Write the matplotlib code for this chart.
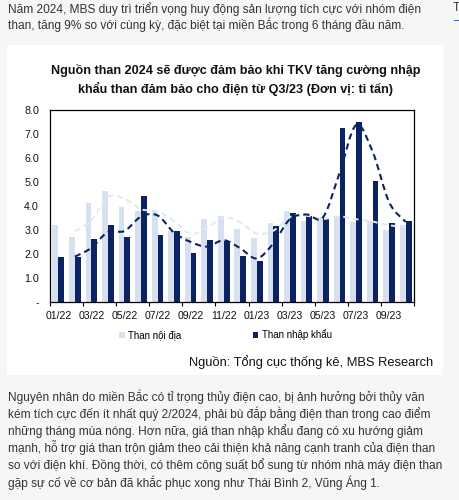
import matplotlib
matplotlib.use("Agg")
import matplotlib.pyplot as plt
from matplotlib.patches import Rectangle, PathPatch
from matplotlib.path import Path
import numpy as np
import pandas as pd

plt.rcParams['font.family'] = ['Liberation Sans', 'DejaVu Sans']

# ---------------- data ----------------
months = ['01/22', '02/22', '03/22', '04/22', '05/22', '06/22', '07/22', '08/22',
          '09/22', '10/22', '11/22', '12/22', '01/23', '02/23', '03/23', '04/23',
          '05/23', '06/23', '07/23', '08/23', '09/23', '10/23']
domestic = [3.21, 2.68, 4.11, 4.64, 3.95, 3.77, 3.77, 2.97, 2.70, 3.46, 3.58,
            3.03, 2.65, 3.28, 3.79, 3.38, 3.53, 3.58, 3.31, 3.38, 3.00, 3.21]
imports = [1.88, 1.88, 2.61, 3.21, 2.69, 4.41, 2.79, 2.97, 2.02, 2.58, 2.55,
           1.91, 1.70, 3.17, 3.72, 3.56, 3.49, 7.25, 7.49, 5.02, 3.28, 3.38]
series_names = ['Than nội địa', 'Than nhập khẩu']
y_ticks = [0, 1, 2, 3, 4, 5, 6, 7, 8]
y_labels = ['-', '1.0', '2.0', '3.0', '4.0', '5.0', '6.0', '7.0', '8.0']

title_lines = ['Nguồn than 2024 sẽ được đảm bảo khi TKV tăng cường nhập',
               'khẩu than đảm bảo cho điện từ Q3/23 (Đơn vị: tỉ tấn)']
source_text = 'Nguồn: Tổng cục thống kê, MBS Research'
top_para = ['Năm 2024, MBS duy trì triển vọng huy động sản lượng tích cực với nhóm điện',
            'than, tăng 9% so với cùng kỳ, đặc biệt tại miền Bắc trong 6 tháng đầu năm.']
bottom_para = ['Nguyên nhân do miền Bắc có tỉ trọng thủy điện cao, bị ảnh hưởng bởi thủy văn',
               'kém tích cực đến ít nhất quý 2/2024, phải bù đắp bằng điện than trong cao điểm',
               'những tháng mùa nóng. Hơn nữa, giá than nhập khẩu đang có xu hướng giảm',
               'mạnh, hỗ trợ giá than trộn giảm theo cải thiện khả năng cạnh tranh của điện than',
               'so với điện khí. Đồng thời, có thêm công suất bổ sung từ nhóm nhà máy điện than',
               'gặp sự cố về cơ bản đã khắc phục xong như Thái Bình 2, Vũng Áng 1.']

# ---------------- style ----------------
LIGHT = '#d7e0f0'
DARK = '#0b2461'
LIGHT_LINE = '#e4e8f0'
TEXT = '#333333'
W, H = 460, 500

def fx(px):
    return px / W

def fy(py):
    return 1 - py / H

fig = plt.figure(figsize=(W / 100, H / 100), dpi=100)
fig.patch.set_facecolor('#f6f6f6')

# white card
fig.add_artist(Rectangle((fx(7), fy(375)), fx(443) - fx(7), fy(45) - fy(375),
                         transform=fig.transFigure, facecolor='white',
                         edgecolor='none', zorder=0))

# page texts
PARA_FS = 8.55
for i, line in enumerate(top_para):
    fig.text(fx(8), fy(12.5 + 17 * i), line, fontsize=PARA_FS, color=TEXT,
             ha='left', va='baseline')
for i, line in enumerate(bottom_para):
    fig.text(fx(8), fy(401 + 17.1 * i), line, fontsize=PARA_FS, color=TEXT,
             ha='left', va='baseline')
# sidebar remnants
fig.text(fx(453), fy(11), 'T', fontsize=PARA_FS, color=TEXT, ha='left', va='baseline')
fig.add_artist(Rectangle((fx(454), fy(21)), fx(6), 1.5 / H, transform=fig.transFigure,
                         facecolor='#2a6bd1', edgecolor='none'))

# title
for i, line in enumerate(title_lines):
    fig.text(fx(236), fy(74 + 19.5 * i), line, fontsize=9.1, fontweight='bold',
             color='#111111', ha='center', va='baseline')

# ---------------- axes ----------------
ax = fig.add_axes([fx(50), fy(301.7), fx(414) - fx(50), fy(110) - fy(301.7)])
ax.set_facecolor('white')
x = np.arange(len(months))
bw = 0.35
b1 = ax.bar(x - bw / 2, domestic, bw, color=LIGHT, label=series_names[0], zorder=2)
b2 = ax.bar(x + bw / 2, imports, bw, color=DARK, label=series_names[1], zorder=2)

# 2-period moving average trendlines (smoothed)
ma_dom = pd.Series(domestic).rolling(2).mean().to_numpy()
ma_imp = pd.Series(imports).rolling(2).mean().to_numpy()


def smooth_path(xs, ys):
    verts = [(xs[0], ys[0])]
    codes = [Path.MOVETO]
    n = len(xs)
    for i in range(n - 1):
        a = i - 1 if i > 0 else i
        d = i + 2 if i + 2 < n else i + 1
        c1 = (xs[i] + (xs[i + 1] - xs[a]) / 6, ys[i] + (ys[i + 1] - ys[a]) / 6)
        c2 = (xs[i + 1] - (xs[d] - xs[i]) / 6, ys[i + 1] - (ys[d] - ys[i]) / 6)
        verts += [c1, c2, (xs[i + 1], ys[i + 1])]
        codes += [Path.CURVE4] * 3
    return Path(verts, codes)


ax.add_patch(PathPatch(smooth_path(x[1:], ma_dom[1:]), fill=False,
                       edgecolor=LIGHT_LINE, lw=1.4, linestyle=(0, (3, 2)), zorder=3))
ax.add_patch(PathPatch(smooth_path(x[1:], ma_imp[1:]), fill=False,
                       edgecolor=DARK, lw=1.5, linestyle=(0, (3, 2)), zorder=4))

ax.set_xlim(-0.5, len(months) - 0.5)
ax.set_ylim(0, 8)
ax.set_yticks(y_ticks)
ax.set_yticklabels(y_labels)
ax.tick_params(axis='y', length=0, pad=8, labelsize=7.7, labelcolor='#111111')
ax.set_xticks(x[::2])
ax.set_xticklabels(months[::2])
ax.tick_params(axis='x', length=0, pad=7, labelsize=7.6, labelcolor='#111111')
ax.set_xticks(np.arange(-0.5, len(months), 2), minor=True)
ax.tick_params(axis='x', which='minor', length=3, width=0.8, direction='out',
               color='black')
for s in ax.spines.values():
    s.set_color('black')
    s.set_linewidth(0.9)

leg = ax.legend(handles=[b1, b2], labels=series_names, loc='center',
                bbox_to_anchor=(fx(225.5), fy(335)), bbox_transform=fig.transFigure,
                ncol=2, frameon=False, fontsize=7.05, handlelength=0.55,
                handleheight=0.55, handletextpad=0.35, columnspacing=7.3)

fig.text(fx(433), fy(366), source_text, fontsize=9.25, color='#111111',
         ha='right', va='baseline')

fig.savefig('out.png', dpi=100, facecolor=fig.get_facecolor())
